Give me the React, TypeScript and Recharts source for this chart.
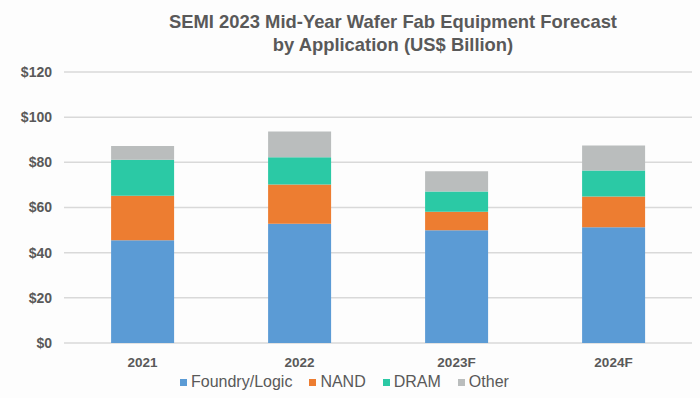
import { BarChart, Bar, XAxis, YAxis, CartesianGrid, Legend } from 'recharts';

const years = ['2021', '2022', '2023F', '2024F'];
const foundryLogic = [45.5, 52.8, 49.9, 51.3];
const nand = [19.7, 17.4, 8.2, 13.6];
const dram = [15.9, 12.0, 9.0, 11.5];
const other = [6.1, 11.5, 9.0, 11.1];
const yTicks = [0, 20, 40, 60, 80, 100, 120];

const series = [
  { key: 'Foundry/Logic', color: '#5B9BD5' },
  { key: 'NAND', color: '#ED7D31' },
  { key: 'DRAM', color: '#2BC9A5' },
  { key: 'Other', color: '#BABDBD' },
];

const chartData = years.map((year, i) => ({
  year,
  'Foundry/Logic': foundryLogic[i],
  NAND: nand[i],
  DRAM: dram[i],
  Other: other[i],
}));

const font = '"Liberation Sans", Arial, sans-serif';
const textGrey = '#595959';

// legende maison : petits carrés, décalée à gauche comme dans l'original
const LegendContent = () => (
  <div style={{ display: 'flex', paddingLeft: 180, paddingTop: 4, gap: 17, fontFamily: font, fontSize: 16, color: textGrey, lineHeight: '18px' }}>
    {series.map(s => (
      <span key={s.key} style={{ display: 'flex', alignItems: 'center', gap: 4 }}>
        <span style={{ width: 7, height: 7, background: s.color, display: 'inline-block' }} />
        {s.key}
      </span>
    ))}
  </div>
);

const titleStyle = {
  position: 'absolute' as const,
  left: 0,
  width: 786,
  textAlign: 'center' as const,
  fontFamily: font,
  fontWeight: 'bold',
  fontSize: 18.4,
  color: textGrey,
  lineHeight: '24px',
};

export default function App() {
  return (
    <div style={{ position: 'absolute', left: 0, top: 0, width: 700, height: 398, background: '#fdfdfd' }}>
      <div style={{ ...titleStyle, top: 10 }}>SEMI 2023 Mid-Year Wafer Fab Equipment Forecast</div>
      <div style={{ ...titleStyle, top: 33 }}>by Application (US$ Billion)</div>
      <BarChart
        width={700}
        height={398}
        data={chartData}
        margin={{ top: 72, right: 8, left: 0, bottom: 4 }}
        barCategoryGap="30%"
      >
        <CartesianGrid vertical={false} stroke="#d9d9d9" strokeWidth={1.5} />
        <XAxis
          dataKey="year"
          axisLine={false}
          tickLine={false}
          height={26}
          tickMargin={8.5}
          tick={{ fill: textGrey, fontSize: 13.5, fontWeight: 'bold', fontFamily: font }}
        />
        <YAxis
          width={64}
          domain={[0, 120]}
          ticks={yTicks}
          axisLine={false}
          tickLine={false}
          tickSize={0}
          tickMargin={12}
          tickFormatter={(v) => `$${v}`}
          tick={{ fill: textGrey, fontSize: 14, fontWeight: 'bold', fontFamily: font }}
        />
        <Legend verticalAlign="bottom" height={25} content={<LegendContent />} />
        {series.map(s => (
          <Bar key={s.key} dataKey={s.key} stackId="a" fill={s.color} isAnimationActive={false} />
        ))}
      </BarChart>
    </div>
  );
}
